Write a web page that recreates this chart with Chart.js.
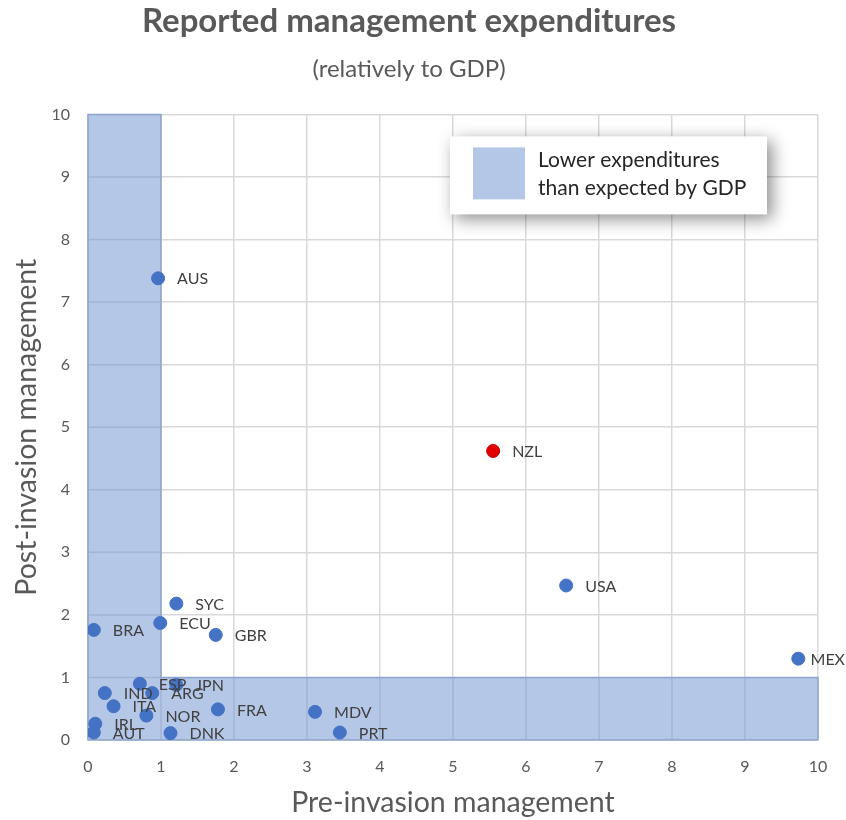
<!DOCTYPE html>
<html>
<head>
<meta charset="utf-8">
<script src="https://cdn.jsdelivr.net/npm/chart.js@4.4.1/dist/chart.umd.min.js"></script>
<style>
  html, body { margin: 0; padding: 0; background: #fff; }
  #wrap { width: 846px; height: 820px; }
</style>
</head>
<body>
<div id="wrap"><canvas id="myChart"></canvas></div>
<script>
// countries and their values (pre-invasion, post-invasion), relative to GDP
var countries = ['AUS', 'NZL', 'USA', 'MEX', 'SYC', 'ECU', 'BRA', 'GBR', 'ESP', 'JPN',
                 'IND', 'ARG', 'ITA', 'NOR', 'FRA', 'MDV', 'PRT', 'DNK', 'IRL', 'AUT'];
var preInvasion = [0.96, 5.55, 6.55, 9.73, 1.21, 0.99, 0.08, 1.75, 0.71, 1.21,
                   0.23, 0.88, 0.35, 0.80, 1.78, 3.11, 3.45, 1.13, 0.10, 0.08];
var postInvasion = [7.38, 4.62, 2.47, 1.30, 2.18, 1.87, 1.76, 1.68, 0.90, 0.88,
                    0.75, 0.75, 0.54, 0.39, 0.49, 0.45, 0.12, 0.11, 0.26, 0.12];
var highlight = 'NZL';

// "lower than expected" threshold on both axes
var threshold = 1;
var axisMin = 0, axisMax = 10;

var FONT = 'Lato, "Open Sans", sans-serif';
var GREY = '#595959';
var SHADE = '#b4c7e7';

var points = countries.map(function (c, i) {
  return { x: preInvasion[i], y: postInvasion[i] };
});
var pointColors = countries.map(function (c) { return c === highlight ? '#e00000' : '#4472c4'; });
var pointBorders = countries.map(function (c) { return c === highlight ? '#c00000' : '#4472c4'; });

// shaded band x<1 and y<1, drawn under the points
var shadePlugin = {
  id: 'shade',
  beforeDatasetsDraw: function (chart) {
    var ctx = chart.ctx, xs = chart.scales.x, ys = chart.scales.y;
    var l = xs.getPixelForValue(axisMin), r = xs.getPixelForValue(axisMax);
    var t = ys.getPixelForValue(axisMax), b = ys.getPixelForValue(axisMin);
    var xt = xs.getPixelForValue(threshold), yt = ys.getPixelForValue(threshold);
    ctx.save();
    ctx.beginPath();
    ctx.rect(l, t, xt - l, b - t);
    ctx.rect(l, yt, r - l, b - yt);
    ctx.fillStyle = SHADE;
    ctx.fill();
    ctx.clip();
    // grid lines show through darker inside the band
    ctx.strokeStyle = '#a2b4d4';
    ctx.lineWidth = 1.5;
    for (var v = axisMin; v <= axisMax; v++) {
      var px = xs.getPixelForValue(v), py = ys.getPixelForValue(v);
      ctx.beginPath(); ctx.moveTo(px, t); ctx.lineTo(px, b); ctx.stroke();
      ctx.beginPath(); ctx.moveTo(l, py); ctx.lineTo(r, py); ctx.stroke();
    }
    ctx.restore();
    ctx.save();
    ctx.strokeStyle = '#8fa5cc';
    ctx.lineWidth = 1.5;
    ctx.beginPath();
    ctx.moveTo(l, t); ctx.lineTo(xt, t); ctx.lineTo(xt, yt); ctx.lineTo(r, yt);
    ctx.lineTo(r, b); ctx.lineTo(l, b); ctx.closePath();
    ctx.stroke();
    ctx.restore();
  }
};

// country codes beside each point
var labelPlugin = {
  id: 'pointLabels',
  afterDatasetsDraw: function (chart) {
    var ctx = chart.ctx;
    var meta = chart.getDatasetMeta(0);
    ctx.save();
    ctx.font = '16px ' + FONT;
    ctx.fillStyle = '#404040';
    ctx.textBaseline = 'middle';
    ctx.textAlign = 'left';
    meta.data.forEach(function (pt, i) {
      var w = ctx.measureText(countries[i]).width;
      var lx = Math.min(pt.x + 19, chart.width - w - 1);
      ctx.fillText(countries[i], lx, pt.y + 1);
    });
    ctx.restore();
  }
};

// legend box with shadow in the upper right
var boxPlugin = {
  id: 'shadeLegend',
  afterDraw: function (chart) {
    var ctx = chart.ctx, a = chart.chartArea;
    var bx = a.left + 362, by = a.top + 22, bw = 317, bh = 78;
    ctx.save();
    ctx.shadowColor = 'rgba(0,0,0,0.45)';
    ctx.shadowBlur = 16;
    ctx.shadowOffsetX = 5;
    ctx.shadowOffsetY = 5;
    ctx.fillStyle = '#fff';
    ctx.fillRect(bx, by, bw, bh);
    ctx.restore();
    ctx.save();
    ctx.fillStyle = SHADE;
    ctx.fillRect(bx + 23, by + 11, 52, 52);
    ctx.fillStyle = '#262626';
    ctx.font = '21px ' + FONT;
    ctx.textBaseline = 'middle';
    ctx.fillText('Lower expenditures', bx + 88, by + 24);
    ctx.fillText('than expected by GDP', bx + 88, by + 52);
    ctx.restore();
  }
};

var ctx = document.getElementById('myChart').getContext('2d');
var myChart = new Chart(ctx, {
  type: 'scatter',
  data: {
    datasets: [{
      label: 'Countries',
      data: points,
      backgroundColor: pointColors,
      borderColor: pointBorders,
      borderWidth: 1,
      pointRadius: 6.5,
      pointHoverRadius: 6.5
    }]
  },
  options: {
    responsive: true,
    maintainAspectRatio: false,
    animation: false,
    events: [],
    layout: { padding: { left: 0, right: 28, top: 0, bottom: 0 } },
    plugins: {
      legend: { display: false },
      tooltip: { enabled: false },
      title: {
        display: true,
        text: 'Reported management expenditures',
        color: GREY,
        font: { family: FONT, size: 33, weight: 'bold' },
        padding: { top: 2, bottom: 13 }
      },
      subtitle: {
        display: true,
        text: '(relatively to GDP)',
        color: GREY,
        font: { family: FONT, size: 24 },
        padding: { top: 0, bottom: 31 }
      }
    },
    scales: {
      x: {
        type: 'linear',
        min: axisMin,
        max: axisMax,
        afterFit: function (s) { s.height = 80; },
        ticks: { stepSize: 1, color: GREY, font: { family: FONT, size: 16 }, padding: 17 },
        grid: { color: '#d9d9d9', lineWidth: 1.5, drawTicks: false },
        border: { display: false },
        title: {
          display: true,
          text: 'Pre-invasion management',
          color: GREY,
          font: { family: FONT, size: 28.5 },
          padding: { top: 0, bottom: 0 }
        }
      },
      y: {
        type: 'linear',
        min: axisMin,
        max: axisMax,
        afterFit: function (s) { s.width = 88; },
        ticks: { stepSize: 1, color: GREY, font: { family: FONT, size: 16 }, padding: 18 },
        grid: { color: '#d9d9d9', lineWidth: 1.5, drawTicks: false },
        border: { display: false },
        title: {
          display: true,
          text: 'Post-invasion management',
          color: GREY,
          font: { family: FONT, size: 28.5 },
          padding: { top: 10, bottom: 0 }
        }
      }
    }
  },
  plugins: [shadePlugin, labelPlugin, boxPlugin]
});
</script>
</body>
</html>
